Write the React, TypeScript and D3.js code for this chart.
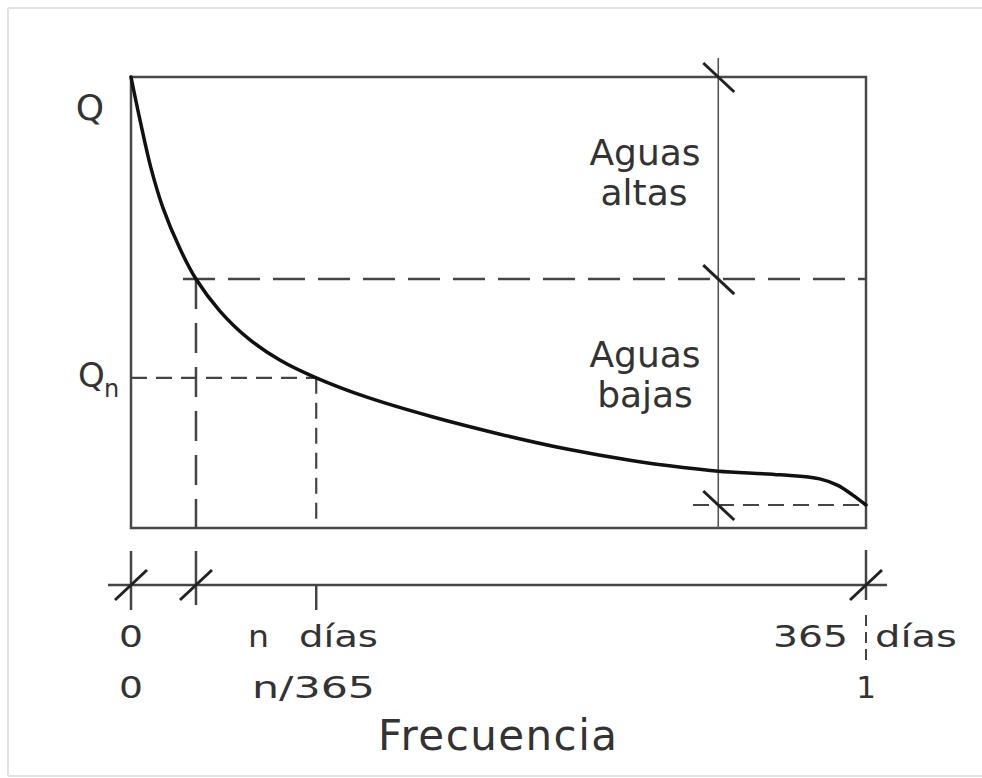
import * as d3 from 'd3';

// curva de duración: frecuencia (0..1) vs caudal (unidades relativas, 0..100)
const frecuencia = [0, 0.0122, 0.0272, 0.0435, 0.0667, 0.0884, 0.121, 0.159, 0.203, 0.252, 0.321, 0.411, 0.502, 0.593, 0.683, 0.751, 0.799, 0.883, 0.937, 0.961, 0.982, 1];
const caudal = [100, 90.5, 79.8, 71.0, 61.9, 55.2, 48.1, 42.1, 37.2, 33.3, 29.0, 24.6, 20.8, 17.5, 14.9, 13.4, 12.6, 11.8, 10.9, 9.5, 7.3, 5.1];

// puntos de referencia
const fAltas = 0.0884;
const qAltas = 55.2;
const fN = 0.252;
const qN = 33.3;
const fNivel = 0.799;
const qMin = 5.1;

const font = '"DejaVu Sans", sans-serif';
const ink = '#333';

export default function App() {
  const x = d3.scaleLinear().domain([0, 1]).range([131, 866]);
  const y = d3.scaleLinear().domain([0, 100]).range([528, 77]);

  const pts = frecuencia.map((f, i) => [f, caudal[i]] as [number, number]);
  const line = d3.line<[number, number]>()
    .x(d => x(d[0]))
    .y(d => y(d[1]))
    .curve(d3.curveCatmullRom.alpha(0.5));

  // marca diagonal tipo plano
  const slash = (cx: number, cy: number, down: boolean) =>
    down
      ? <line x1={cx - 15} y1={cy - 14} x2={cx + 16} y2={cy + 15} stroke="#222" strokeWidth={3} />
      : <line x1={cx - 16} y1={cy + 15} x2={cx + 16} y2={cy - 15} stroke="#222" strokeWidth={3} />;

  const axisY = 585;
  const xN = x(fNivel);
  const adj = 'spacingAndGlyphs';

  return (
    <svg width={982} height={778} style={{ position: 'absolute', left: 0, top: 0, background: '#fff', overflow: 'hidden' }}>
      <g stroke="#e2e2e2" strokeWidth={2}>
        <line x1={8} x2={982} y1={8} y2={8} />
        <line x1={8} x2={8} y1={8} y2={776} />
        <line x1={8} x2={982} y1={776} y2={776} />
      </g>

      {/* marco del gráfico */}
      <rect x={x(0)} y={y(100)} width={x(1) - x(0)} height={y(0) - y(100)} fill="none" stroke="#484848" strokeWidth={2.5} />

      {/* línea de nivel */}
      <line x1={xN} x2={xN} y1={58} y2={y(0)} stroke="#555" strokeWidth={1.6} />

      {/* líneas de trazos */}
      <line x1={x(fAltas) - 13} x2={x(1)} y1={y(qAltas)} y2={y(qAltas)} stroke="#444" strokeWidth={2.5} strokeDasharray="32 13" />
      <line x1={x(fAltas)} x2={x(fAltas)} y1={y(qAltas)} y2={y(0)} stroke="#444" strokeWidth={2.5} strokeDasharray="30 14" />
      <line x1={x(0)} x2={x(fN)} y1={y(qN)} y2={y(qN)} stroke="#444" strokeWidth={2.2} strokeDasharray="16 9" />
      <line x1={x(fN)} x2={x(fN)} y1={y(qN)} y2={y(0)} stroke="#444" strokeWidth={2.2} strokeDasharray="16 9" />
      <line x1={693} x2={x(1)} y1={y(qMin)} y2={y(qMin)} stroke="#444" strokeWidth={2.2} strokeDasharray="16 9" />

      {/* curva */}
      <path d={line(pts) ?? ''} fill="none" stroke="#111" strokeWidth={3.5} strokeLinecap="round" />

      {/* marcas en la línea de nivel */}
      {slash(xN, y(100), true)}
      {slash(xN, y(qAltas), true)}
      {slash(xN, y(qMin), true)}

      {/* etiquetas eje Q */}
      <text x={90} y={120} fontFamily={font} fontSize={36} fill={ink} textAnchor="middle">Q</text>
      <text x={78} y={387} fontFamily={font} fontSize={34} fill={ink}>Q</text>
      <text x={104} y={397} fontFamily={font} fontSize={24} fill={ink}>n</text>

      <g fontFamily={font} fontSize={36} fill={ink} textAnchor="middle">
        <text x={645} y={165}>Aguas</text>
        <text x={644} y={205}>altas</text>
        <text x={645} y={367}>Aguas</text>
        <text x={645} y={407}>bajas</text>
      </g>

      {/* eje de frecuencia */}
      <line x1={x(0) - 23} x2={x(1) + 21} y1={axisY} y2={axisY} stroke="#444" strokeWidth={2.5} />
      <line x1={x(0)} x2={x(0)} y1={551} y2={610} stroke="#444" strokeWidth={2.5} />
      {slash(x(0), axisY, false)}
      <line x1={x(fAltas)} x2={x(fAltas)} y1={551} y2={605} stroke="#444" strokeWidth={2.5} />
      {slash(x(fAltas), axisY, false)}
      <line x1={x(fN)} x2={x(fN)} y1={axisY} y2={610} stroke="#444" strokeWidth={2.5} />
      <line x1={x(1)} x2={x(1)} y1={550} y2={600} stroke="#444" strokeWidth={2.5} />
      <line x1={x(1)} x2={x(1)} y1={615} y2={662} stroke="#444" strokeWidth={2} strokeDasharray="11 6" />
      {slash(x(1), axisY, false)}

      <g fontFamily={font} fontSize={31} fill={ink}>
        <text x={x(0)} y={647} textAnchor="middle" textLength={24} lengthAdjust={adj}>0</text>
        <text x={248} y={647} textLength={21} lengthAdjust={adj}>n</text>
        <text x={299} y={647} textLength={79} lengthAdjust={adj}>días</text>
        <text x={773} y={647} textLength={75} lengthAdjust={adj}>365</text>
        <text x={875} y={647} textLength={82} lengthAdjust={adj}>días</text>
        <text x={x(0)} y={698} textAnchor="middle" textLength={24} lengthAdjust={adj}>0</text>
        <text x={252} y={698} textLength={123} lengthAdjust={adj}>n/365</text>
        <text x={x(1)} y={698} textAnchor="middle">1</text>
      </g>
      <text x={378} y={750} fontFamily={font} fontSize={42} fill={ink} textLength={239} lengthAdjust="spacing">Frecuencia</text>
    </svg>
  );
}
